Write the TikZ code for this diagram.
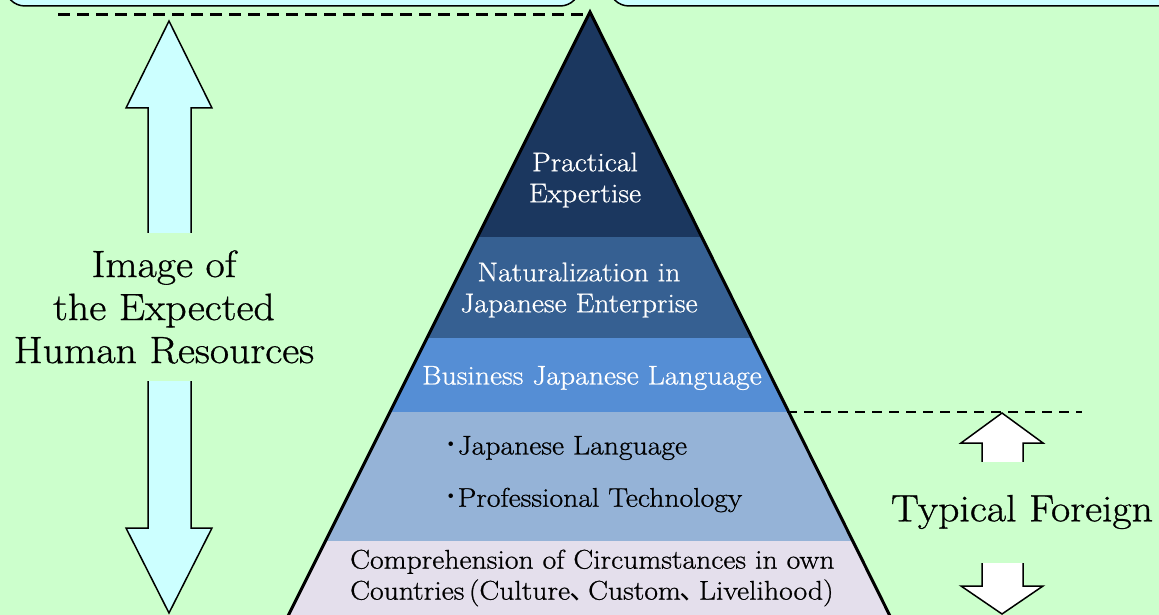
\documentclass[tikz,border=0pt]{standalone}
\usepackage{fontspec}
\setmainfont{Latin Modern Roman}[FakeStretch=1.1, FakeBold=0.8]
\newfontfamily\cjk{Noto Sans CJK JP}
\usetikzlibrary{positioning}
\definecolor{bggreen}{HTML}{CCFFCC}
\definecolor{boxcyan}{HTML}{CCFFFF}
\definecolor{bandA}{HTML}{1B375F}
\definecolor{bandB}{HTML}{366092}
\definecolor{bandC}{HTML}{558ED5}
\definecolor{bandD}{HTML}{95B3D7}
\definecolor{bandE}{HTML}{E4DFEC}

\begin{document}
\begin{tikzpicture}[x=1pt, y=-1pt,
	ptext/.style={align=center, inner sep=0pt, font=\fontsize{27}{31}\selectfont},
	sidetext/.style={align=center, inner sep=0pt, fill=bggreen, font=\fontsize{38}{43}\selectfont},
	bigarrow/.style={draw=black, line width=1.5pt, line join=miter},
	topbox/.style={draw=black, line width=1.5pt, fill=boxcyan, rounded corners=20pt}]
	\useasboundingbox (0,0) rectangle (1159,615);
	\clip (0,0) rectangle (1159,615);
	\fill[bggreen] (0,0) rectangle (1159,615);
	\draw[topbox] (5,-60) rectangle (580,6);
	\draw[topbox] (609,-60) rectangle (1220,6);
	\coordinate (apex) at (590,12);
	\coordinate (baseL) at (286,620);
	\coordinate (baseR) at (892,620);
	\begin{scope}
		\clip (apex) -- (baseL) -- (baseR) -- cycle;
		\fill[bandA] (250,0) rectangle (950,237);
		\fill[bandB] (250,237) rectangle (950,338);
		\fill[bandC] (250,338) rectangle (950,412);
		\fill[bandD] (250,412) rectangle (950,541);
		\fill[bandE] (250,541) rectangle (950,620);
	\end{scope}
	\draw[line width=3pt, line join=miter] (baseL) -- (apex) -- (baseR);
	\coordinate (topdash) at (58,15);
	\draw[line width=3pt, dash pattern=on 12pt off 7pt] (topdash) -- (apex |- topdash);
	\coordinate (rightdash) at (787,412);
	\draw[line width=2.2pt, dash pattern=on 10pt off 7pt] (rightdash) -- ++(295,0);
	\draw[bigarrow, fill=boxcyan] (169,21) -- (212,108) -- (191,108) -- (191,528) -- (212,528)
		-- (169,613) -- (126,528) -- (148,528) -- (148,108) -- (126,108) -- cycle;
	\draw[bigarrow, fill=white] (1002,413) -- (1043,443) -- (1023,443) -- (1023,586) -- (1043,586)
		-- (1002,614) -- (961,586) -- (982,586) -- (982,443) -- (961,443) -- cycle;
	\node[sidetext, minimum height=148pt] (expected) at (164,307) {Image of\\the Expected\\Human Resources};
	\node[sidetext, minimum height=101pt] (foreign) at (1022,512) {Typical Foreign};
	\node[ptext, text=white] (practical) at (585,180) {Practical\\Expertise};
	\node[ptext, text=white] (enterprise) at (579,290) {Naturalization in\\Japanese Enterprise};
	\node[ptext, text=white] (business) at (592,378) {Business Japanese Language};
	\node[ptext, anchor=west] (language) at (444,448) {{\cjk ･}Japanese Language};
	\node[ptext, anchor=west] (technology) at (444,500) {{\cjk ･}Professional Technology};
	\node[ptext, anchor=west, align=left] (circumstances) at (350,578)
		{Comprehension of Circumstances in own\\Countries\,(Culture{\cjk ､}\,Custom{\cjk ､}\,Livelihood)};
\end{tikzpicture}
\end{document}
